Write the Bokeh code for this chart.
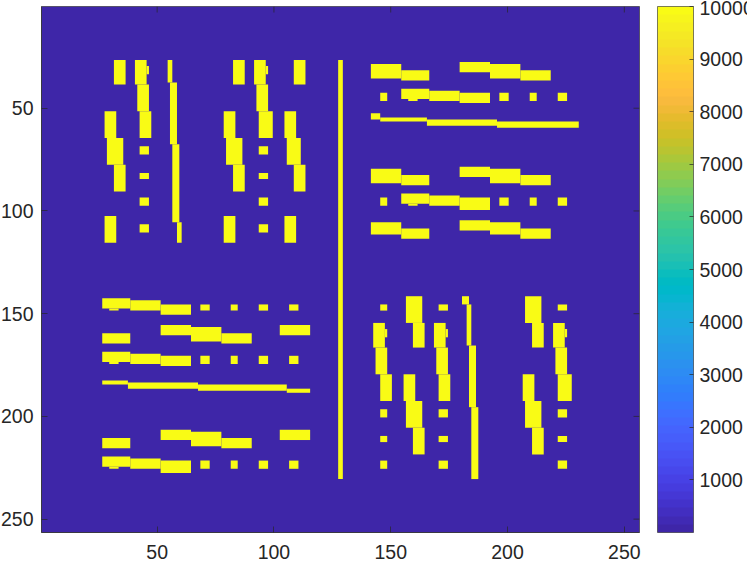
from bokeh.embed import file_html
from bokeh.resources import INLINE
from bokeh.plotting import figure
from bokeh.models import LinearColorMapper, ColorBar, FixedTicker, Range1d, ColumnDataSource
from bokeh.transform import transform

# Matrix size and the two values it holds
n = 256
low_value = 1
high_value = 10000

# Filled blocks as (col_start, col_end, row_start, row_end), cell bounds of the matrix
top_left = [
    (31,36,26,38),(40,45,26,38),(45,46,29,33),(41,46,38,51),(42,47,51,64),(27,32,51,64),
    (28,35,64,77),(31,36,77,90),(27,32,102,115),
    (42,46,68,72),(42,46,81,84),(42,46,93,97),(42,46,106,110),
    (54,56,26,37),(55,58,37,67),(56,59,67,105),(58,60,105,115),
    (82,87,26,38),(91,96,26,38),(96,97,29,33),(92,97,38,51),(93,99,51,64),(78,83,51,64),
    (79,86,64,77),(82,87,77,90),(78,83,102,115),
    (93,97,68,72),(93,97,81,84),(93,97,93,97),(93,97,106,110),
    (108,113,26,38),(104,109,51,64),(105,111,64,77),(108,113,77,90),(104,109,102,115),
]
centre_line = [(127,129,26,230)]
top_right = [
    (141,154,28,35),(154,166,31,36),(179,192,27,32),(192,205,28,35),(205,218,31,36),
    (145,148,42,46),(154,166,40,45),(157,161,45,46),(166,179,41,46),(179,192,42,47),
    (196,200,42,46),(209,212,42,46),(221,225,42,46),
    (141,145,52,55),(145,165,54,56),(165,195,55,58),(195,230,56,59),
    (141,154,79,86),(154,166,82,87),(179,192,78,83),(192,205,79,86),(205,218,82,87),
    (145,148,93,97),(154,166,91,96),(157,161,96,97),(166,179,92,97),(179,192,93,99),
    (196,200,93,97),(209,212,93,97),(221,225,93,97),
    (141,154,105,111),(154,166,108,113),(179,192,104,109),(192,205,105,111),(205,218,108,113),
]
bottom_left = [
    (26,38,142,147),(29,33,147,148),(38,51,143,148),(51,64,145,150),
    (68,72,145,148),(81,84,145,148),(93,97,145,148),(106,110,145,148),
    (51,64,155,160),(64,77,156,163),(77,90,159,164),(102,115,155,160),(26,38,159,164),
    (26,38,168,173),(29,33,173,174),(38,51,169,174),(51,64,170,175),
    (68,72,170,174),(81,84,170,174),(93,97,170,174),(106,110,170,174),
    (26,37,182,184),(37,67,183,186),(67,105,184,187),(105,115,186,188),
    (51,64,206,211),(64,77,207,214),(77,90,210,215),(102,115,206,211),(26,38,210,215),
    (26,38,219,224),(29,33,224,225),(38,51,220,225),(51,64,221,227),
    (68,72,221,225),(81,84,221,225),(93,97,221,225),(106,110,221,225),
]
bottom_right = [
    (145,148,145,148),(156,163,141,154),(159,164,154,166),(142,147,154,166),(147,148,157,161),
    (143,148,166,179),(145,150,179,192),(155,160,179,192),(156,163,192,205),(159,164,205,218),
    (145,148,196,200),(145,148,209,212),(145,148,221,225),
    (170,174,145,148),(168,173,154,166),(173,174,157,161),(169,174,166,179),(170,175,179,192),
    (170,174,196,200),(170,174,209,212),(170,174,221,225),
    (180,183,141,145),(182,184,145,165),(183,186,165,195),(184,187,195,230),
    (207,214,141,154),(210,215,154,166),(206,211,179,192),(207,214,192,205),(210,215,205,218),
    (221,225,145,148),(219,224,154,166),(224,225,157,161),(220,225,166,179),(221,227,179,192),
    (221,225,196,200),(221,225,209,212),(221,225,221,225),
]

x_ticks = [50, 100, 150, 200, 250]
y_ticks = [50, 100, 150, 200, 250]
bar_ticks = [1000, 2000, 3000, 4000, 5000, 6000, 7000, 8000, 9000, 10000]

parula = [
    (0.2422,0.1504,0.6603),(0.2504,0.1650,0.7076),(0.2578,0.1818,0.7511),(0.2647,0.1978,0.7952),
    (0.2706,0.2147,0.8364),(0.2751,0.2342,0.8710),(0.2783,0.2559,0.8991),(0.2803,0.2782,0.9221),
    (0.2813,0.3006,0.9414),(0.2810,0.3228,0.9579),(0.2795,0.3447,0.9717),(0.2760,0.3667,0.9829),
    (0.2699,0.3892,0.9906),(0.2602,0.4123,0.9952),(0.2440,0.4358,0.9988),(0.2206,0.4603,0.9973),
    (0.1963,0.4847,0.9892),(0.1834,0.5074,0.9798),(0.1786,0.5289,0.9682),(0.1764,0.5499,0.9520),
    (0.1687,0.5703,0.9359),(0.1540,0.5902,0.9218),(0.1460,0.6091,0.9079),(0.1380,0.6276,0.8973),
    (0.1248,0.6459,0.8883),(0.1113,0.6635,0.8763),(0.0952,0.6798,0.8598),(0.0689,0.6948,0.8394),
    (0.0297,0.7082,0.8163),(0.0036,0.7203,0.7917),(0.0067,0.7312,0.7660),(0.0433,0.7411,0.7394),
    (0.0964,0.7500,0.7120),(0.1408,0.7584,0.6842),(0.1717,0.7670,0.6554),(0.1938,0.7758,0.6251),
    (0.2161,0.7843,0.5923),(0.2470,0.7918,0.5567),(0.2906,0.7973,0.5188),(0.3406,0.8008,0.4789),
    (0.3909,0.8029,0.4354),(0.4456,0.8024,0.3909),(0.5044,0.7993,0.3480),(0.5616,0.7942,0.3045),
    (0.6174,0.7876,0.2612),(0.6720,0.7793,0.2227),(0.7242,0.7698,0.1910),(0.7738,0.7598,0.1646),
    (0.8203,0.7498,0.1535),(0.8634,0.7406,0.1596),(0.9035,0.7330,0.1774),(0.9393,0.7288,0.2100),
    (0.9728,0.7298,0.2394),(0.9956,0.7434,0.2371),(0.9970,0.7659,0.2199),(0.9952,0.7893,0.2028),
    (0.9892,0.8136,0.1885),(0.9786,0.8386,0.1766),(0.9676,0.8639,0.1643),(0.9610,0.8890,0.1537),
    (0.9597,0.9135,0.1423),(0.9628,0.9373,0.1265),(0.9691,0.9606,0.1064),(0.9769,0.9839,0.0805),
]
palette = ["#%02x%02x%02x" % tuple(round(c * 255) for c in rgb) for rgb in parula]

blocks = top_left + centre_line + top_right + bottom_left + bottom_right
source = ColumnDataSource(dict(
    left=[b[0] + 0.5 for b in blocks],
    right=[b[1] + 0.5 for b in blocks],
    top=[b[2] + 0.5 for b in blocks],
    bottom=[b[3] + 0.5 for b in blocks],
    value=[high_value] * len(blocks),
))

INK = "#262626"
FONT = "Liberation Sans"
SIZE = "19.5px"

mapper = LinearColorMapper(palette=palette, low=low_value, high=high_value)

p = figure(
    width=750, height=563, frame_width=598, frame_height=526,
    x_range=Range1d(0.5, n + 0.5), y_range=Range1d(n + 0.5, 0.5),
    output_backend="svg", toolbar_location=None,
    min_border_left=42, min_border_top=6, min_border_bottom=31, min_border_right=0,
    x_axis_location="below", y_axis_location="left",
)
p.styles = {"margin-left": "-3px"}
p.grid.visible = False
p.background_fill_color = palette[0]
p.border_fill_color = "white"
p.outline_line_color = INK
p.outline_line_width = 0.6

p.quad(left="left", right="right", top="top", bottom="bottom", source=source,
       fill_color=transform("value", mapper), line_color=None)

def style(ax, ticks, standoff):
    ax.ticker = FixedTicker(ticks=ticks)
    ax.major_tick_in = 6
    ax.major_tick_out = 0
    ax.minor_tick_line_color = None
    ax.major_tick_line_color = INK
    ax.major_tick_line_width = 0.7
    ax.axis_line_color = INK
    ax.axis_line_width = 0.6
    ax.major_label_text_font = FONT
    ax.major_label_text_font_size = SIZE
    ax.major_label_text_color = INK
    ax.major_label_standoff = standoff

style(p.xaxis[0], x_ticks, 12)
style(p.yaxis[0], y_ticks, 8)

# Mirrored ticks on the top and right of the box (6 px long on the 598x526 frame)
tick_dx = 6 * n / 598
tick_dy = 6 * n / 526
p.segment(x0=x_ticks, x1=x_ticks, y0=[0.5] * len(x_ticks), y1=[0.5 + tick_dy] * len(x_ticks),
          line_color=INK, line_width=0.7)
p.segment(x0=[n + 0.5] * len(y_ticks), x1=[n + 0.5 - tick_dx] * len(y_ticks), y0=y_ticks, y1=y_ticks,
          line_color=INK, line_width=0.7)

bar = ColorBar(
    color_mapper=mapper, ticker=FixedTicker(ticks=bar_ticks), width=36, height=526,
    margin=0, padding=0, location=(18, 0),
    major_tick_line_color=INK, major_tick_line_width=0.7, major_tick_in=4,
    minor_tick_line_color=None, bar_line_color=INK, bar_line_width=0.6,
    major_label_text_font=FONT, major_label_text_font_size=SIZE,
    major_label_text_color=INK, label_standoff=6,
    background_fill_color=None, border_line_color=None,
)
p.add_layout(bar, "right")

open("out.html", "w").write(file_html(p, INLINE))
